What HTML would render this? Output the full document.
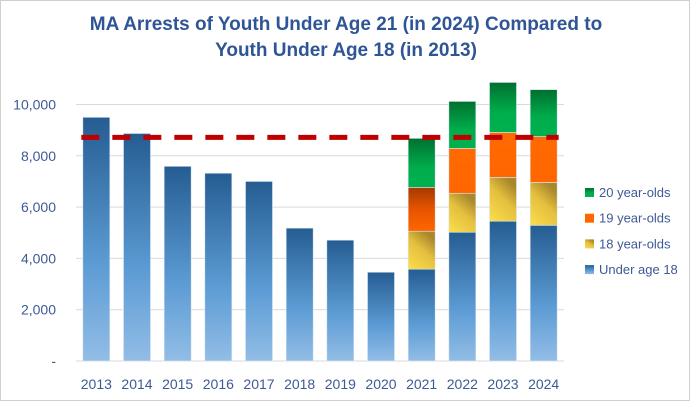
<!DOCTYPE html>
<html><head><meta charset="utf-8"><style>
body{margin:0;background:#fff;font-family:"Liberation Sans",sans-serif}
#wrap{position:relative;width:688px;height:399px;border:1px solid #d0d0d0;overflow:hidden}
</style></head><body>
<div id="wrap">
<svg id="chart" width="688" height="399">
<defs>
<linearGradient id="gBlue" x1="0" y1="0" x2="0" y2="1"><stop offset="0" stop-color="#255d92"/><stop offset="0.6" stop-color="#5c9bd4"/><stop offset="1" stop-color="#92bde6"/></linearGradient>
<linearGradient id="gYel" x1="0" y1="1" x2="0.6" y2="0"><stop offset="0" stop-color="#fbdf4c"/><stop offset="0.6" stop-color="#e5bf3e"/><stop offset="1" stop-color="#a9872c"/></linearGradient>
<linearGradient id="gOra" x1="0" y1="0" x2="0" y2="1"><stop offset="0" stop-color="#ff6a00"/><stop offset="1" stop-color="#ff6600"/></linearGradient>
<linearGradient id="gOra21" x1="0" y1="0" x2="0" y2="1"><stop offset="0" stop-color="#a53a00"/><stop offset="0.5" stop-color="#e75400"/><stop offset="1" stop-color="#ff6600"/></linearGradient>
<linearGradient id="gGrn" x1="0" y1="0" x2="0" y2="1"><stop offset="0" stop-color="#00702f"/><stop offset="0.6" stop-color="#00ad4c"/><stop offset="1" stop-color="#00b050"/></linearGradient>
</defs>
<text x="345" y="29" text-anchor="middle" font-size="19" font-weight="bold" fill="#2f5597">MA Arrests of Youth Under Age 21 (in 2024) Compared to</text>
<text x="345" y="55" text-anchor="middle" font-size="19" font-weight="bold" fill="#2f5597">Youth Under Age 18 (in 2013)</text>
<g id="grid"></g><g id="bars"></g><g id="line"></g><g id="axes"></g><g id="legend"></g>
</svg></div>
<script>
const years=["2013","2014","2015","2016","2017","2018","2019","2020","2021","2022","2023","2024"];
const under18=[9500,8870,7590,7320,7000,5180,4710,3460,3580,5020,5450,5290];
const age18=[0,0,0,0,0,0,0,0,1480,1520,1710,1670];
const age19=[0,0,0,0,0,0,0,0,1710,1750,1750,1790];
const age20=[0,0,0,0,0,0,0,0,1910,1830,1950,1830];
const baseline2013=8720;
const yTicks=[0,2000,4000,6000,8000,10000];
const yTickLabels=["-","2,000","4,000","6,000","8,000","10,000"];
const legendLabels=["20 year-olds","19 year-olds","18 year-olds","Under age 18"];
const NS="http://www.w3.org/2000/svg";
const x0=75,x1=563,yZero=360,pxPer=25.65/1000,band=(x1-x0)/years.length,bw=27;
const y=v=>yZero-v*pxPer;
const xc=i=>x0+band*(i+0.5);
function mk(tag,attrs,parent,txt){const e=document.createElementNS(NS,tag);for(const k in attrs)e.setAttribute(k,attrs[k]);if(txt!==undefined)e.textContent=txt;document.getElementById(parent).appendChild(e);return e;}
yTicks.forEach((t,i)=>{
 const g=mk("line",{x1:x0,x2:x1,y1:y(t),y2:y(t),stroke:"#d9d9d9","stroke-width":1},"grid");
 
 
 const l=mk("text",{x:55,y:y(t)+5,"text-anchor":"end","font-size":14,fill:"#3e5a96"},"axes",yTickLabels[i]);
 
 
});
const series=[[under18,"url(#gBlue)","under-18"],[age18,"url(#gYel)","18-year-olds"],[age19,"url(#gOra)","19-year-olds"],[age20,"url(#gGrn)","20-year-olds"]];
years.forEach((yr,i)=>{
 let acc=0;
 series.forEach(([arr,fill,nm])=>{
  const v=arr[i]; if(!v)return;
  const r=mk("rect",{x:xc(i)-bw/2,y:y(acc+v),width:bw,height:v*pxPer,fill:(nm==="19-year-olds"&&i===8)?"url(#gOra21)":fill,stroke:"#dde8f3","stroke-width":0.6},"bars");
  
  
  acc+=v;
 });
 const t=mk("text",{x:xc(i),y:388,"text-anchor":"middle","font-size":14,fill:"#3e5a96"},"axes",yr);
 
 
});
const ln=mk("line",{x1:xc(0)-15,x2:xc(years.length-1)+15,y1:y(baseline2013),y2:y(baseline2013),stroke:"#c00000","stroke-width":5,"stroke-dasharray":"18,13"},"line");


const lf=["url(#gGrn)","url(#gOra)","url(#gYel)","url(#gBlue)"];
legendLabels.forEach((lab,i)=>{
 const yy=192+i*25.7;
 const s=mk("rect",{x:584,y:yy-5,width:9,height:9,fill:lf[i]},"legend");
 
 
 const t=mk("text",{x:598,y:yy+4,"font-size":13,fill:"#3e5a96"},"legend",lab);
 
 
});
</script>
</body></html>
